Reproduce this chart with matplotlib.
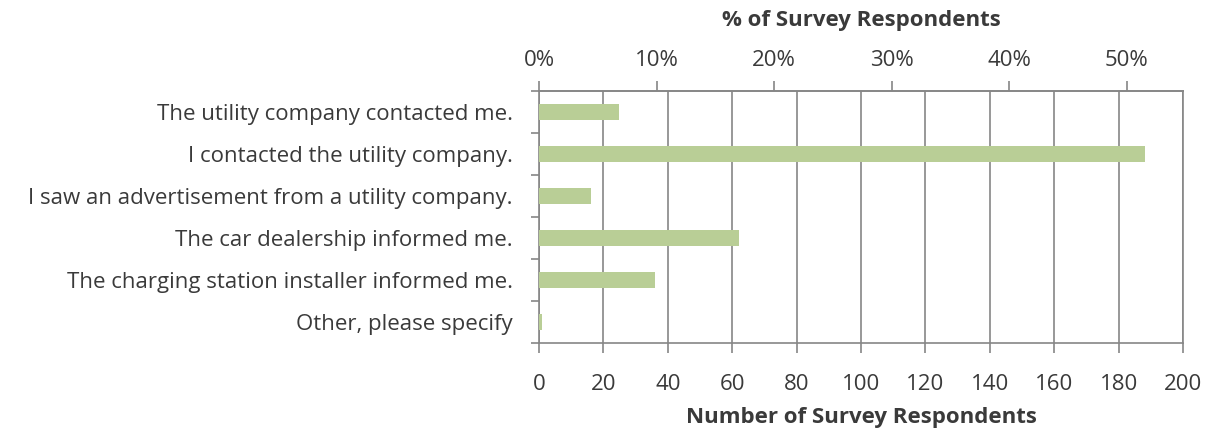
import matplotlib
matplotlib.use("Agg")
import matplotlib.pyplot as plt
from matplotlib.ticker import FuncFormatter
import numpy as np

plt.rcParams['font.family'] = ['Open Sans', 'DejaVu Sans']

categories = [
    "The utility company contacted me.",
    "I contacted the utility company.",
    "I saw an advertisement from a utility company.",
    "The car dealership informed me.",
    "The charging station installer informed me.",
    "Other, please specify",
]
counts = [25, 188, 16, 62, 36, 1]
total_respondents = 365
count_ticks = list(range(0, 201, 20))
pct_ticks = [0, 10, 20, 30, 40, 50]

bar_color = "#B9CE96"
grid_color = "#868686"
text_color = "#3A3A3A"
fs = 16

fig = plt.figure(figsize=(12.12, 4.32), dpi=100)
ax = fig.add_axes([0.4447, 0.206, 0.5315, 0.583])

y = np.arange(len(categories))
ax.barh(y, counts, height=0.37, color=bar_color, zorder=3)
ax.set_ylim(len(categories) - 0.5, -0.5)
ax.set_xlim(0, 200)

ax.set_xticks(count_ticks)
ax.xaxis.grid(True, color=grid_color, linewidth=1.2, zorder=1)
ax.tick_params(axis='x', direction='out', length=7, width=1.2, color=grid_color,
               labelsize=fs, labelcolor=text_color, pad=15)

ax.set_yticks(y)
ax.set_yticklabels(categories)
ax.set_yticks(np.arange(-0.5, len(categories), 1), minor=True)
ax.tick_params(axis='y', which='major', length=0, labelsize=fs, labelcolor=text_color, pad=19)
ax.tick_params(axis='y', which='minor', direction='out', length=6, width=1.2, color=grid_color)

for side in ['left', 'bottom', 'right', 'top']:
    ax.spines[side].set_color(grid_color)
    ax.spines[side].set_linewidth(1.2)

ax.set_xlabel("Number of Survey Respondents", fontsize=fs, fontweight='bold',
              color=text_color, labelpad=9)

sec = ax.secondary_xaxis('top', functions=(lambda c: c / total_respondents * 100,
                                           lambda p: p * total_respondents / 100))
sec.set_xticks(pct_ticks)
sec.xaxis.set_major_formatter(FuncFormatter(lambda v, _: f"{v:.0f}%"))
sec.tick_params(axis='x', direction='out', length=7, width=1.2, color=grid_color,
                labelsize=fs, labelcolor=text_color, pad=7.5)
sec.spines['top'].set_color(grid_color)
sec.spines['top'].set_linewidth(1.2)
sec.set_xlabel("% of Survey Respondents", fontsize=fs, fontweight='bold',
               color=text_color, labelpad=17)

fig.savefig("out.png", dpi=100)
